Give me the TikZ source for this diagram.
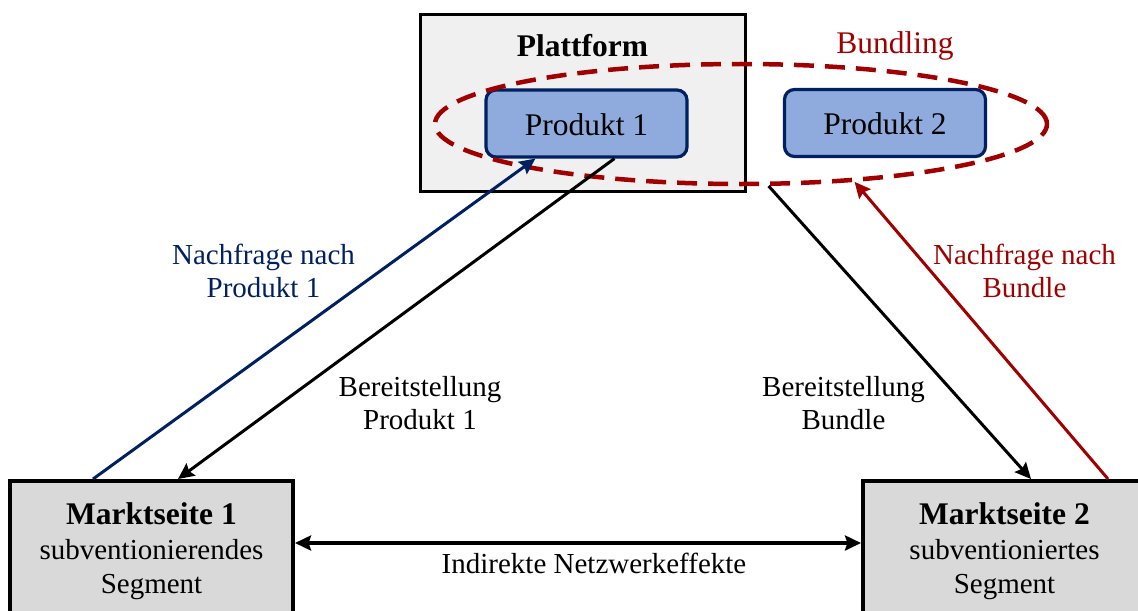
\documentclass[tikz,border=0pt]{standalone}
\usepackage{fontspec}
\setmainfont{Liberation Serif}
\usetikzlibrary{shapes.geometric,arrows.meta,calc}
\definecolor{navy}{HTML}{002060}
\definecolor{pfill}{HTML}{8FAADC}
\definecolor{dred}{HTML}{A00000}
\definecolor{plfill}{HTML}{F0F0F0}
\definecolor{mfill}{HTML}{D9D9D9}
\begin{document}
\begin{tikzpicture}[x=0.5pt,y=-0.5pt,
  bigfont/.style={font=\fontsize{15.75}{17.25}\selectfont},
  midfont/.style={font=\fontsize{14.5}{16.5}\selectfont},
  platbox/.style={draw=black,line width=1.5pt,fill=plfill,inner sep=0pt},
  prodbox/.style={draw=navy,fill=pfill,line width=1.6pt,rounded corners=5pt,inner sep=0pt,
    minimum width=100.5pt,minimum height=33.5pt},
  mbox/.style={draw=black,fill=mfill,line width=2pt,inner sep=0pt,
    minimum width=141.5pt,minimum height=109.5pt},
  bundring/.style={ellipse,draw=dred,line width=2.25pt,dash pattern=on 10pt off 5.5pt,
    inner sep=0pt,minimum width=306pt,minimum height=60pt},
  lbl/.style={midfont,align=center,anchor=north,inner sep=0pt},
  arr/.style={line width=1.5pt,-{Stealth[length=8pt,width=7.5pt,inset=1.2pt]}},
  dblarr/.style={line width=1.75pt,{Stealth[length=8pt,width=7.5pt,inset=1.2pt]}-{Stealth[length=8pt,width=7.5pt,inset=1.2pt]}}
]
\clip (0,0) rectangle (1138,610);
\useasboundingbox (0,0) rectangle (1138,610);

% platform
\node[platbox,minimum width=162.5pt,minimum height=88pt] (plat) at (582.5,103) {};
\node[bigfont,font=\fontsize{15.75}{17.25}\selectfont\bfseries,anchor=base,inner sep=0pt] (platt) at (582.5,57) {Plattform};
\node[prodbox] (p1) at (586.5,123.5) {};
\node[bigfont,anchor=base,inner sep=0pt] (p1t) at (586.5,135) {Produkt 1};
\node[prodbox] (p2) at (885,123) {};
\node[bigfont,anchor=base,inner sep=0pt] (p2t) at (885,134) {Produkt 2};
\node[bundring] (bund) at (741,124) {};
\node[bigfont,text=dred,anchor=base,inner sep=0pt] (bundt) at (895,54) {Bundling};

% market sides
\node[mbox] (m1) at (151.5,590.5) {};
\node[mbox] (m2) at (1004.5,590.5) {};
\node[midfont,align=center,anchor=north,inner sep=0pt,font=\fontsize{14.5}{17.25}\selectfont] (m1t) at (151.5,502.7)
  {{\fontsize{15.75}{17.25}\selectfont\bfseries Marktseite 1}\\subventionierendes\\Segment};
\node[midfont,align=center,anchor=north,inner sep=0pt,font=\fontsize{14.5}{17.25}\selectfont] (m2t) at (1004.5,502.7)
  {{\fontsize{15.75}{17.25}\selectfont\bfseries Marktseite 2}\\subventioniertes\\Segment};

% labels
\node[lbl,text=navy] (l1) at (263.5,243.2) {Nachfrage nach\\Produkt 1};
\node[lbl] (l2) at (420,376.2) {Bereitstellung\\Produkt 1};
\node[lbl] (l3) at (843.5,376.2) {Bereitstellung\\Bundle};
\node[lbl,text=dred] (l4) at (1024.5,243.2) {Nachfrage nach\\Bundle};
\node[midfont,anchor=base,inner sep=0pt] (l5) at (594,573) {Indirekte Netzwerkeffekte};

% connectors
\draw[arr,draw=navy,fill=navy] ($(m1.north west)+(85,0)$) -- ($(p1.south west)+(51,0)$);
\draw[arr] ($(p1.south west)+(130,0)$) -- ($(m1.north west)+(170,0)$);
\draw[arr] (bund.-66) -- ($(m2.north west)+(170,0)$);
\draw[arr,draw=dred,fill=dred] ($(m2.north west)+(247,0)$) -- (bund.-27);
\draw[dblarr] ($(m1.north east)+(0,64)$) -- ($(m2.north west)+(0,64)$);
\end{tikzpicture}
\end{document}
